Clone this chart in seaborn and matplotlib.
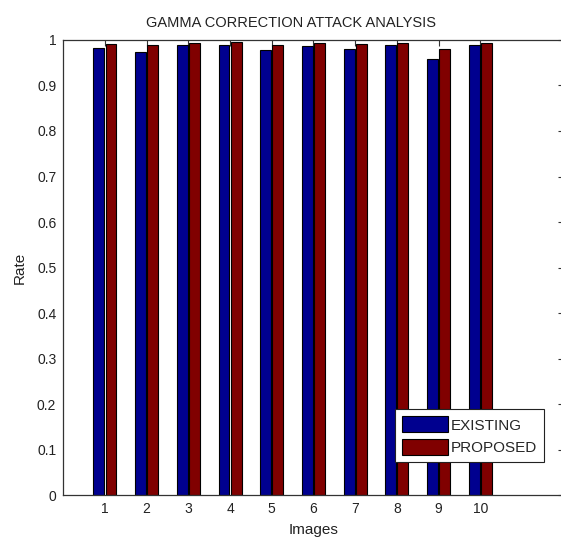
import matplotlib
matplotlib.use("Agg")
import matplotlib.pyplot as plt
import seaborn as sns
import pandas as pd

# values
images = ["1", "2", "3", "4", "5", "6", "7", "8", "9", "10"]
existing = [0.983, 0.974, 0.990, 0.990, 0.978, 0.986, 0.981, 0.990, 0.958, 0.990]
proposed = [0.992, 0.989, 0.994, 0.995, 0.990, 0.994, 0.992, 0.994, 0.980, 0.994]
series = ["EXISTING", "PROPOSED"]
colors = ["#00008F", "#800000"]
yticks = [0, 0.1, 0.2, 0.3, 0.4, 0.5, 0.6, 0.7, 0.8, 0.9, 1]
ytick_labels = ["0", "0.1", "0.2", "0.3", "0.4", "0.5", "0.6", "0.7", "0.8", "0.9", "1"]

df = pd.DataFrame({
    "Images": images * 2,
    "Rate": existing + proposed,
    "Series": [series[0]] * len(images) + [series[1]] * len(images),
})

sns.set_style("white")
plt.rcParams["font.family"] = ["Liberation Sans", "DejaVu Sans"]

fig = plt.figure(figsize=(5.61, 5.39), dpi=100)
# axes runs slightly past the right edge, like the cropped original
ax = fig.add_axes([0.1128, 0.0816, 0.892, 0.8442])

sns.barplot(
    data=df, x="Images", y="Rate", hue="Series",
    hue_order=series, palette=colors,
    width=0.58, gap=0.1, edgecolor="black", linewidth=0.8,
    saturation=1, errorbar=None, ax=ax,
)

ax.set_xlim(-1, 11)
ax.set_ylim(0, 1)
ax.set_yticks(yticks)
ax.set_yticklabels(ytick_labels)

for s in ax.spines.values():
    s.set_color("#333333")
    s.set_linewidth(0.9)

ax.tick_params(direction="in", top=True, right=True, length=4,
               width=0.8, color="#333333", labelsize=10,
               labelcolor="#222222", pad=5)

ax.set_xlabel("Images", fontsize=11, color="#222222")
ax.set_ylabel("Rate", fontsize=11, color="#222222")
ax.xaxis.set_label_coords(0.5, -0.062)
ax.yaxis.set_label_coords(-0.073, 0.5)

ax.set_title("GAMMA CORRECTION ATTACK ANALYSIS", fontsize=10.5,
             color="#222222", x=0.455, y=1.029, pad=0)

leg = ax.legend(
    loc="upper right", bbox_to_anchor=(0.9604, 0.188), borderaxespad=0,
    fontsize=11, frameon=True, fancybox=False, framealpha=1,
    handlelength=3.07, handleheight=1.24, handletextpad=0.15,
    labelspacing=0.4, borderpad=0.45, title=None,
)
leg.get_frame().set_edgecolor("#222222")
leg.get_frame().set_linewidth(0.8)

fig.savefig("out.png", dpi=100)
plt.close(fig)
